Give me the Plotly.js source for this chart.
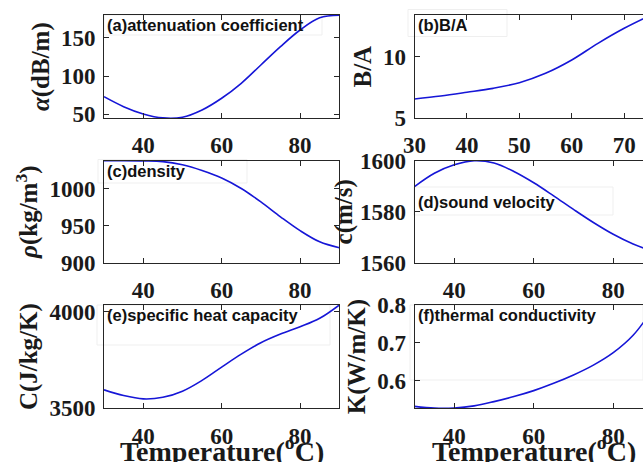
<!DOCTYPE html>
<html>
<head>
<meta charset="utf-8">
<script src="https://cdn.plot.ly/plotly-3.0.1.min.js"></script>
<style>
html,body{margin:0;padding:0;overflow:hidden;background:#fff;}
#plot{width:660px;height:480px;}
</style>
</head>
<body>
<div id="plot"></div>
<script>
// ---- data ----
const temperature = [30, 35, 40, 45, 50, 55, 60, 65, 70, 75, 80, 85, 90];
const temperatureBA = [30, 35, 40, 45, 50, 55, 60, 65, 70, 75];
const attenuation = [73, 60, 50.5, 45.3, 46.2, 55.7, 71, 90.5, 114.4, 138.3, 160, 176, 179.2];
const nonlinearityBA = [6.57, 6.81, 7.11, 7.43, 7.89, 8.65, 9.73, 11.08, 12.3, 13.35];
const density = [1037.2, 1037.2, 1036.9, 1036, 1031.7, 1024, 1014, 1000, 982, 962, 943.4, 928.4, 920.4];
const soundVelocity = [1589.8, 1595, 1598.3, 1599.9, 1599, 1595.7, 1591.3, 1586.2, 1580.9, 1575.8, 1571.2, 1567.4, 1564.5];
const heatCapacity = [3596, 3566, 3549, 3557, 3589, 3645, 3714, 3781, 3840, 3885, 3923, 3967, 4036];
const conductivity = [0.532, 0.5275, 0.5278, 0.5334, 0.5447, 0.558, 0.5737, 0.593, 0.615, 0.641, 0.674, 0.72, 0.79];

const panelLabels = ['(a)attenuation coefficient', '(b)B/A', '(c)density', '(d)sound velocity', '(e)specific heat capacity', '(f)thermal conductivity'];
const yTitles = ['<i>α</i>(dB/m)', 'B/A', '<i>ρ</i>(kg/m<sup>3</sup>)', 'c(m/s)', 'C(J/kg/K)', 'K(W/m/K)'];
const xTitle = 'Temperature(<sup>o</sup>C)';

// ---- layout geometry (page is larger than the 643x462 window, which crops it) ----
const W = 660, H = 480;
const px = v => v / W;
const py = v => 1 - v / H;
const colX = [[104, 339.3], [414.5, 653]];
const rowY = [[15, 118.3], [160.5, 263], [305, 408.3]];

const lineColor = 'rgb(22,22,215)';
const axCol = '#262626';
const tickFont = {family: 'Liberation Serif', size: 23, color: '#1a1a1a', weight: 'bold'};
const yTitleFont = {family: 'Liberation Serif', size: 25, color: '#1a1a1a', weight: 'bold'};
const xTitleFont = {family: 'Liberation Serif', size: 28, color: '#1a1a1a', weight: 'bold'};

const series = [
  {x: temperature, y: attenuation, xr: [30, 90], yr: [44.8, 179.6], xt: [40, 60, 80], yt: [50, 100, 150]},
  {x: temperatureBA, y: nonlinearityBA, xr: [30, 75.5], yr: [5, 13.38], xt: [30, 40, 50, 60, 70], yt: [5, 10]},
  {x: temperature, y: density, xr: [30, 90], yr: [900, 1037.5], xt: [40, 60, 80], yt: [900, 950, 1000]},
  {x: temperature, y: soundVelocity, xr: [30, 90], yr: [1560, 1600], xt: [40, 60, 80], yt: [1560, 1580, 1600]},
  {x: temperature, y: heatCapacity, xr: [30, 90], yr: [3500, 4036], xt: [40, 60, 80], yt: [3500, 4000]},
  {x: temperature, y: conductivity, xr: [30, 90], yr: [0.527, 0.8], xt: [40, 60, 80], yt: [0.6, 0.7, 0.8]}
];

const data = [];
const layout = {
  width: W, height: H,
  margin: {l: 0, r: 0, t: 0, b: 0},
  paper_bgcolor: '#ffffff',
  plot_bgcolor: 'rgba(0,0,0,0)',
  showlegend: false,
  annotations: [],
  shapes: []
};

// label boxes [left, top, right, bottom] and text centre y, in px
const boxes = [
  [104, 15, 322, 35, 25.5],
  [408, 9.5, 507, 36.5, 25.5],
  [98, 159.5, 247, 183, 170.5],
  [414, 187, 613, 215, 201.5],
  [97, 305, 330, 345, 315],
  [410, 305, 643, 380, 315]
];

series.forEach((s, i) => {
  const n = i + 1;
  const sfx = n === 1 ? '' : String(n);
  const col = i % 2, row = Math.floor(i / 2);
  data.push({
    type: 'scatter', mode: 'lines',
    x: s.x, y: s.y,
    xaxis: 'x' + sfx, yaxis: 'y' + sfx,
    line: {color: lineColor, width: 1.6, shape: 'spline', smoothing: 1},
    hoverinfo: 'skip'
  });
  const common = {
    showline: true, linecolor: axCol, linewidth: 1, mirror: 'ticks',
    ticks: 'inside', ticklen: 5, tickwidth: 1, tickcolor: axCol,
    showgrid: false, zeroline: false, fixedrange: true,
    tickfont: tickFont
  };
  layout['xaxis' + sfx] = Object.assign({}, common, {
    domain: [px(colX[col][0]), px(colX[col][1])],
    range: s.xr, tickvals: s.xt, anchor: 'y' + sfx,
    ticklabelstandoff: row === 2 ? 7 : 6
  });
  layout['yaxis' + sfx] = Object.assign({}, common, {
    domain: [py(rowY[row][1]), py(rowY[row][0])],
    range: s.yr, tickvals: s.yt, anchor: 'x' + sfx,
    ticklabelstandoff: 3,
    title: {text: yTitles[i], font: yTitleFont, standoff: i === 3 ? 0 : 4}
  });
  if (row === 2) {
    // x-axis title of the bottom row, placed tight under the tick labels as in the reference
    layout.annotations.push({
      xref: 'x' + sfx + ' domain', yref: 'paper', x: 0.5, y: py(449),
      xanchor: 'center', yanchor: 'middle', showarrow: false,
      text: xTitle, font: xTitleFont
    });
  }
  const b = boxes[i];
  layout.shapes.push({
    type: 'rect', xref: 'paper', yref: 'paper', layer: 'below',
    x0: px(b[0]), x1: px(b[2]), y0: py(b[3]), y1: py(b[1]),
    line: {color: '#efefef', width: 1}, fillcolor: 'rgba(255,255,255,0)'
  });
  layout.annotations.push({
    xref: 'paper', yref: 'paper', x: px(colX[col][0] + 1), y: py(b[4]),
    xanchor: 'left', yanchor: 'middle', showarrow: false,
    text: panelLabels[i],
    font: {family: 'Liberation Sans', size: 16.5, color: '#111111', weight: 'bold'}
  });
});

Plotly.newPlot('plot', data, layout, {displayModeBar: false, staticPlot: true});
</script>
</body>
</html>
